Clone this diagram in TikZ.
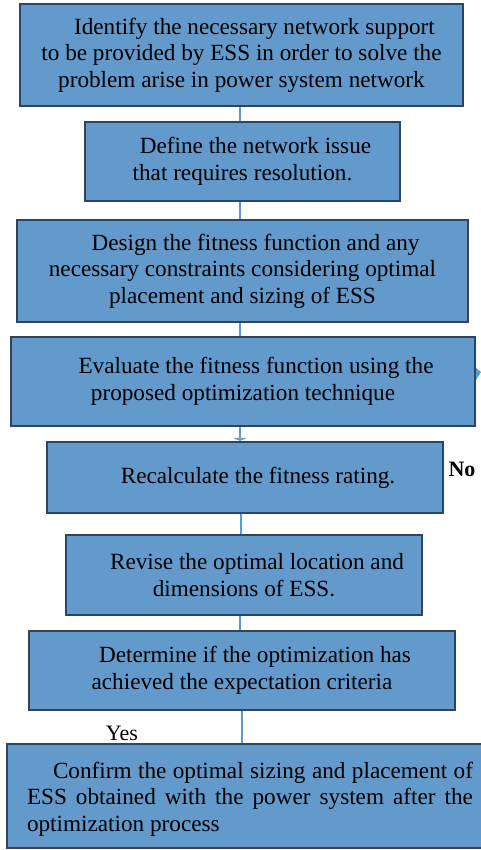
\documentclass[tikz,border=0pt]{standalone}
\usepackage{fontspec}
\setmainfont{Liberation Serif}
\usetikzlibrary{arrows.meta}
\definecolor{boxfill}{HTML}{6399CB}
\definecolor{boxline}{HTML}{2B4563}
\definecolor{linkblue}{HTML}{5B9BD5}

\begin{document}
\begin{tikzpicture}[x=1pt,y=-1pt,
  stepbox/.style={draw=boxline, line width=2.2pt, fill=boxfill, align=center,
    inner sep=0pt, text=black, font=\fontsize{23.2}{26.5}\selectfont},
  plaintext/.style={inner sep=0pt, text=black, font=\fontsize{23.2}{26.5}\selectfont},
  link/.style={draw=linkblue, line width=1.8pt}]
\clip (0,0) rectangle (481,850);
\fill[white] (0,0) rectangle (481,850);

% process steps, top to bottom
\node[stepbox, minimum width=443pt, minimum height=102pt] (b1) at (241.5,55)
  {\hspace*{26pt}Identify the necessary network support\\to be provided by ESS in order to solve the\\problem arise in power system network};
\node[stepbox, minimum width=315pt, minimum height=79pt] (b2) at (242.5,161.5)
  {\hspace*{26pt}Define the network issue\\that requires resolution.};
\node[stepbox, minimum width=451pt, minimum height=102pt] (b3) at (242.5,271)
  {\hspace*{26pt}Design the fitness function and any\\necessary constraints considering optimal\\placement and sizing of ESS};
\node[stepbox, minimum width=464pt, minimum height=89pt] (b4) at (243,381.5)
  {\hspace*{26pt}Evaluate the fitness function using the\\proposed optimization technique};
\node[stepbox, minimum width=396pt, minimum height=71pt] (b5) at (245,477.5)
  {\hspace*{26pt}Recalculate the fitness rating.};
\node[stepbox, minimum width=356pt, minimum height=80pt] (b6) at (244,575)
  {\hspace*{26pt}Revise the optimal location and\\dimensions of ESS.};
\node[stepbox, minimum width=426pt, minimum height=79pt] (b7) at (242,670.5)
  {\hspace*{26pt}Determine if the optimization has\\achieved the expectation criteria};
\node[stepbox, minimum width=477pt, minimum height=104pt] (b8) at (245.5,796) {};
\node[plaintext, align=left] (b8text) at (250,799)
  {\makebox[446pt][s]{\hspace*{26pt}Confirm the optimal sizing and placement of}\\
   \makebox[446pt][s]{ESS obtained with the power system after the}\\
   \makebox[446pt][l]{optimization process}};

% decision labels
\node[plaintext, font=\bfseries\fontsize{22}{24}\selectfont] (no) at (462,469) {No};
\node[plaintext, font=\fontsize{22}{24}\selectfont] (yes) at (122,733) {Yes};

% connectors
\coordinate (cx) at (240,0);
\coordinate (cy) at (241,0);
\coordinate (cz) at (242,0);
\draw[link] (b1.south -| cx) -- (b2.north -| cx);
\draw[link] (b2.south -| cx) -- (b3.north -| cx);
\draw[link] (b3.south -| cx) -- (b4.north -| cx);
\draw[link, -{Triangle[width=14pt,length=3pt]}] (b4.south -| cx) -- (b5.north -| cx);
\draw[link] (b5.south -| cy) -- (b6.north -| cy);
\draw[link] (b6.south -| cx) -- (b7.north -| cx);
\draw[link] (b7.south -| cz) -- (b8.north -| cz);

% loop-back arrow tip at the right edge of the evaluation step
\coordinate (tip) at (476,368);
\fill[linkblue] (tip) -- ++(5,4) -- ++(-5,8) -- cycle;
\end{tikzpicture}
\end{document}
